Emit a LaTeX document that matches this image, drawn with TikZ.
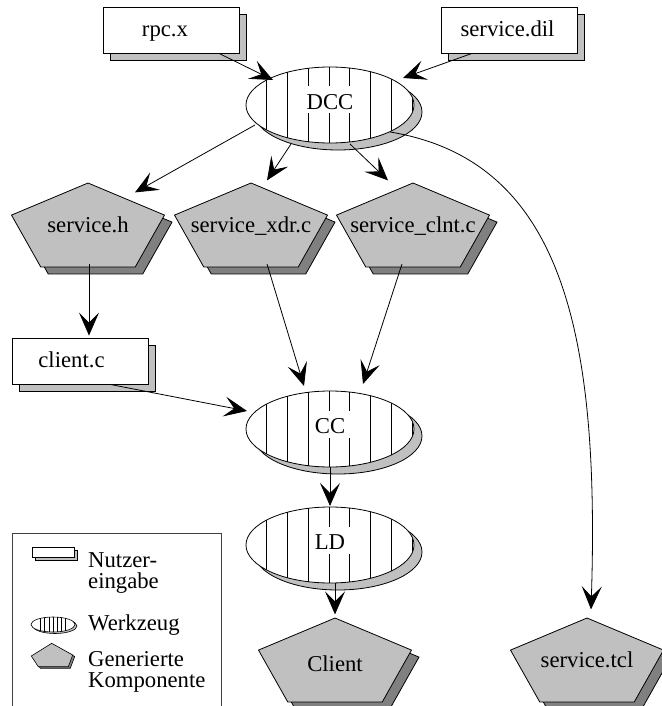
\documentclass[tikz,border=0pt]{standalone}
\usepackage{fontspec}
\setmainfont{Liberation Serif}
\usetikzlibrary{arrows.meta,shapes.geometric,calc}
\definecolor{lgray}{HTML}{C0C0C0}
\definecolor{dgray}{HTML}{808080}
\tikzset{
  every node/.style={font=\fontsize{22.7}{20.5}\selectfont},
  conn/.style={line width=0.8pt,-{Stealth[length=23pt,width=20pt,inset=10pt]}},
  shd/.style={draw,line width=0.8pt,fill=lgray},
  pshd/.style={draw,line width=0.8pt,fill=dgray},
  userbox/.style={draw,line width=0.8pt,fill=white,minimum width=136pt,minimum height=46pt,inner sep=0pt,text height=17pt,text depth=4pt},
  tool/.style={ellipse,draw,line width=0.8pt,fill=white,minimum width=168pt,minimum height=76pt,inner sep=0pt,
    path picture={\foreach \k in {-3,...,4}
      \draw[line width=0.8pt] ([xshift=\k*20.8pt-1pt]path picture bounding box.north) -- ([xshift=\k*20.8pt-1pt]path picture bounding box.south);}},
  toollabel/.style={fill=white,inner xsep=5pt,inner ysep=4pt,text height=19pt,text depth=0pt,anchor=base},
  pent/.style={draw,line width=0.8pt,fill=lgray},
  penttext/.style={inner sep=0pt,text height=11pt,text depth=5pt},
  legtext/.style={inner sep=0pt,anchor=base west,align=left},
  legframe/.style={draw=black!75,line width=0.8pt},
}
\newcommand\userin[4]{%
  \draw[shd] ({#2-68+7},{#3-23+7}) rectangle ({#2+68+7},{#3+23+7});
  \node[userbox] (#1) at (#2,#3) {#4};}
\newcommand\toolnode[4]{%
  \draw[shd] ({#2+8},{#3+7}) ellipse [x radius=84, y radius=38];
  \node[tool] (#1) at (#2,#3) {};
  \node[toollabel] (#1-t) at ({#2},{#3+4.5}) {#4};}
\newcommand\pentnode[5]{%
  \draw[pshd,shift={(7.5,7)}] ({#2},{#3-46.4}) -- ({#2+76.5},{#3-14.3}) -- ({#2+47.3},{#3+37.5}) -- ({#2-47.3},{#3+37.5}) -- ({#2-76.5},{#3-14.3}) -- cycle;
  \draw[pent] ({#2},{#3-46.4}) -- ({#2+76.5},{#3-14.3}) -- ({#2+47.3},{#3+37.5}) -- ({#2-47.3},{#3+37.5}) -- ({#2-76.5},{#3-14.3}) -- cycle;
  \node[penttext,anchor=base] (#1) at ({#2},{#3+#5}) {#4};}
\begin{document}
\begin{tikzpicture}[x=1pt,y=-1pt]
\useasboundingbox (0,0) rectangle (661,706);
% user inputs
\userin{rpc}{171}{30.5}{rpc.x\hspace*{12pt}}
\userin{dil}{509.5}{30}{service.dil\hspace*{4pt}}
\userin{clientc}{80.5}{361}{client.c\hspace*{18pt}}
% tools
\toolnode{DCC}{330}{105}{DCC}
\toolnode{CC}{330}{429}{CC}
\toolnode{LD}{330}{545}{LD}
% generated components (name, cx, cy, text, baseline offset)
\pentnode{sh}{88}{229.4}{service.h}{3}
\pentnode{xdr}{251}{229.4}{service\_xdr.c}{3}
\pentnode{clnt}{413}{229.4}{service\_clnt.c}{3}
\pentnode{cl}{335}{664.4}{Client}{7}
\pentnode{tcl}{587}{664.4}{service.tcl}{3}
% connectors
\draw[conn] ($(rpc.south)+(49,0)$) -- ($(DCC)+(-57,-25)$);
\draw[conn] ($(dil.south)+(-37.5,0)$) -- ($(DCC)+(73,-27)$);
\draw[conn] ($(DCC)+(-75,20)$) -- ($(sh)+(47,-37)$);
\draw[conn] ($(DCC)+(-39,39)$) -- ($(xdr)+(16,-49)$);
\draw[conn] ($(DCC)+(20,39)$) -- ($(clnt)+(-25,-49)$);
\draw[conn] ($(DCC)+(60,27)$) .. controls ($(DCC)+(230,55)$) and ($(tcl)+(13,-337)$) .. ($(tcl)+(4,-55)$);
\draw[conn] ($(sh)+(1,34.6)$) -- ($(clientc.north)+(8.5,-2)$);
\draw[conn] ($(xdr)+(16,34.6)$) -- ($(CC)+(-26,-43)$);
\draw[conn] ($(clnt)+(-11,34.6)$) -- ($(CC)+(33,-45)$);
\draw[conn] ($(clientc.south)+(29.5,0)$) -- ($(CC)+(-83,-18)$);
\draw[conn] (CC.south) -- ($(LD)+(0,-39)$);
\draw[conn] ($(LD)+(5,38)$) -- ($(cl)+(0,-54)$);
% legend
\draw[legframe] (12,706) -- (12,533) -- (221,533) -- (221,706);
\draw[shd,line width=0.6pt] (35,550) rectangle (77,560);
\draw[line width=0.6pt,fill=white] (32,547) rectangle (74,557);
\draw[shd,line width=0.6pt] (55,626) ellipse [x radius=22, y radius=7.5];
\begin{scope}
  \draw[line width=0.6pt,fill=white] (53,624.5) ellipse [x radius=22, y radius=7.5];
  \clip (53,624.5) ellipse [x radius=22, y radius=7.5];
  \foreach \k in {-3,...,3} \draw[line width=0.6pt] ({53+4.2*\k},615) -- ({53+4.2*\k},634);
\end{scope}
\draw[pshd,line width=0.6pt,shift={(2,1.5)}] (51.7,643.3) -- (72.7,655) -- (68.3,666.7) -- (38.3,666.7) -- (31.3,656) -- cycle;
\draw[pent,line width=0.6pt] (51.7,643.3) -- (72.7,655) -- (68.3,666.7) -- (38.3,666.7) -- (31.3,656) -- cycle;
\node[legtext] (lg1) at (88,588) {Nutzer-\\eingabe};
\node[legtext] (lg2) at (88,630) {Werkzeug};
\node[legtext] (lg3) at (88,687) {Generierte\\Komponente};
\end{tikzpicture}
\end{document}
